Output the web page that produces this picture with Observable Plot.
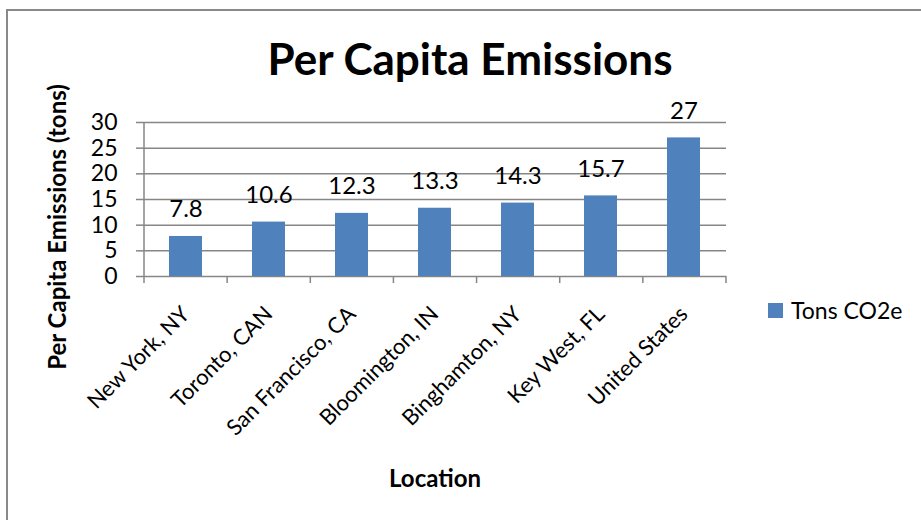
<!DOCTYPE html>
<html>
<head>
<meta charset="utf-8">
<script src="https://cdn.jsdelivr.net/npm/d3@7"></script>
<script src="https://cdn.jsdelivr.net/npm/@observablehq/plot@0.6"></script>
<style>
  html, body { margin: 0; padding: 0; background: #fff; }
  #chart { position: relative; width: 921px; height: 520px; overflow: hidden; font-family: Lato, "Open Sans", sans-serif; color: #000; }
  #frame { position: absolute; left: 6px; top: 9px; width: 940px; height: 540px; border: 2px solid #898989; box-sizing: border-box; }
  #plot { position: absolute; left: 0; top: 0; }
  .title { position: absolute; left: 470px; top: 58px; transform: translate(-50%, -50%); white-space: nowrap; font-weight: 700; font-size: 44px; line-height: 52px; }
  .ylabel { position: absolute; left: 57px; top: 227px; transform: translate(-50%, -50%) rotate(-90deg); white-space: nowrap; font-weight: 700; font-size: 24px; line-height: 28px; }
  .xlabel { position: absolute; left: 435px; top: 478px; transform: translate(-50%, -50%); font-weight: 700; font-size: 24px; line-height: 28px; }
  .legend { position: absolute; left: 768px; top: 296px; display: flex; align-items: center; font-size: 23px; line-height: 28px; }
  .legend .swatch { width: 15px; height: 15px; background: #4f81bd; margin-right: 8px; }
</style>
</head>
<body>
<div id="chart">
  <div id="frame"></div>
  <div id="plot"></div>
  <div class="title">Per Capita Emissions</div>
  <div class="ylabel">Per Capita Emissions (tons)</div>
  <div class="xlabel">Location</div>
  <div class="legend"><div class="swatch"></div><span>Tons CO2e</span></div>
</div>
<script>
// Per-capita emissions by location, tons CO2e
const locations = ["New York, NY", "Toronto, CAN", "San Francisco, CA", "Bloomington, IN", "Binghamton, NY", "Key West, FL", "United States"];
const tonsCO2e = [7.8, 10.6, 12.3, 13.3, 14.3, 15.7, 27];
const yTicks = [0, 5, 10, 15, 20, 25, 30];

const data = locations.map((loc, i) => ({loc, value: tonsCO2e[i]}));

const gridColor = "#868686";

// Category-axis frame: left axis line plus tick marks at the band edges
function categoryEdges(index, scales, values, dimensions) {
  const {width, height, marginLeft, marginRight, marginTop, marginBottom} = dimensions;
  const x0 = marginLeft, x1 = width - marginRight;
  const y0 = marginTop, y1 = height - marginBottom;
  const step = (x1 - x0) / locations.length;
  const g = d3.create("svg:g").attr("stroke", gridColor).attr("stroke-width", 1.5);
  g.append("line").attr("x1", x0).attr("x2", x0).attr("y1", y0).attr("y2", y1);
  d3.range(locations.length + 1).forEach(i => {
    const x = x0 + i * step;
    g.append("line").attr("x1", x).attr("x2", x).attr("y1", y1).attr("y2", y1 + 7);
  });
  return g.node();
}

const chart = Plot.plot({
  width: 921,
  height: 520,
  marginLeft: 144,
  marginRight: 195,
  marginTop: 122,
  marginBottom: 244,
  style: {fontFamily: "Lato, 'Open Sans', sans-serif", fontSize: "22px", color: "#000", background: "transparent"},
  x: {type: "band", domain: locations, paddingInner: 0.6, paddingOuter: 0.3, label: null},
  y: {domain: [0, 30], ticks: yTicks, label: null},
  marks: [
    Plot.gridY(yTicks, {stroke: gridColor, strokeOpacity: 1, strokeWidth: 1.5}),
    Plot.barY(data, {x: "loc", y: "value", fill: "#4f81bd"}),
    categoryEdges,
    Plot.axisY(yTicks, {tickSize: 8, tickPadding: 19, stroke: gridColor, strokeWidth: 1.5, fontSize: 23, fill: "#000", label: null}),
    Plot.axisX({tickSize: 0, tickRotate: -45, tickPadding: 34, fontSize: 22, fill: "#000", label: null}),
    Plot.text(data, {x: "loc", y: "value", text: d => String(d.value), dy: -27, lineAnchor: "middle", fontSize: 24, fill: "#000"})
  ]
});

document.getElementById("plot").append(chart);
</script>
</body>
</html>
